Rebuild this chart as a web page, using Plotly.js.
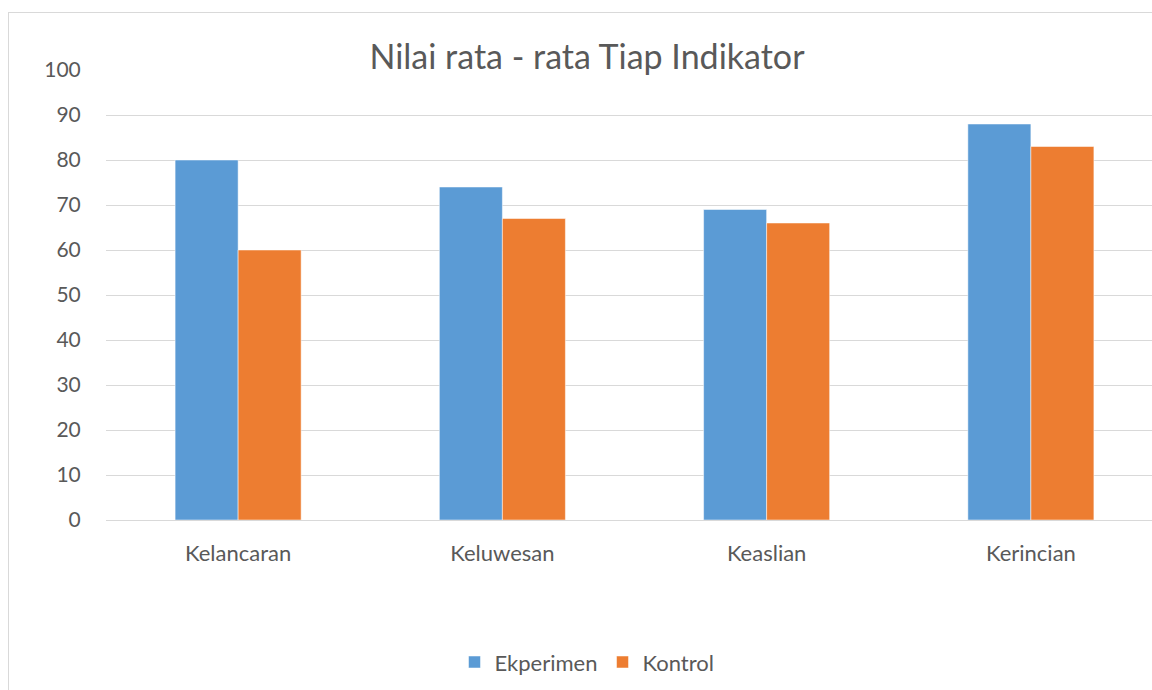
<!DOCTYPE html>
<html>
<head>
<meta charset="utf-8">
<script src="https://cdn.plot.ly/plotly-3.0.1.min.js"></script>
<style>
html,body{margin:0;padding:0;background:#fff;overflow:hidden;width:1152px;height:690px;}
#frame{position:absolute;left:8px;top:12px;border:1px solid #d9d9d9;background:#fff;}
</style>
</head>
<body>
<div id="frame"><div id="chart"></div></div>
<script>
const categories = ["Kelancaran", "Keluwesan", "Keaslian", "Kerincian"];
const seriesNames = ["Ekperimen", "Kontrol"];
const ekperimen = [80, 74, 69, 88];
const kontrol = [60, 67, 66, 83];
const yTicks = [0, 10, 20, 30, 40, 50, 60, 70, 80, 90, 100];

const fontFam = "Lato, 'Open Sans', sans-serif";
const data = [
  {type: "bar", name: seriesNames[0], x: categories, y: ekperimen,
   marker: {color: "#5b9bd5", line: {color: "#ffffff", width: 0.5}}},
  {type: "bar", name: seriesNames[1], x: categories, y: kontrol,
   marker: {color: "#ed7d31", line: {color: "#ffffff", width: 0.5}}}
];
const layout = {
  width: 1160, height: 700,
  margin: {l: 97, r: 6, t: 57, b: 193},
  paper_bgcolor: "#ffffff", plot_bgcolor: "#ffffff",
  font: {family: fontFam, color: "#595959", size: 21},
  title: {text: "Nilai rata - rata Tiap Indikator", font: {family: fontFam, size: 34, color: "#595959"},
          x: (587 - 9) / 1160, xanchor: "center", xref: "container", y: 1 - 44/700, yref: "container", yanchor: "middle"},
  barmode: "group", bargap: 0.523, bargroupgap: 0,
  xaxis: {type: "category", showgrid: false, showline: true, linecolor: "#d9d9d9", linewidth: 1,
          ticks: "outside", ticklen: 14, tickcolor: "rgba(0,0,0,0)", tickfont: {size: 22, color: "#595959"}},
  yaxis: {range: [0, 100], tickvals: yTicks, ticktext: yTicks.map(String), showgrid: true, gridcolor: "#d9d9d9", gridwidth: 1,
          zeroline: false, showline: false, ticks: "outside", ticklen: 20, tickcolor: "rgba(0,0,0,0)",
          tickfont: {size: 21, color: "#595959"}},
  showlegend: true,
  legend: {orientation: "h", x: (587 - 9 - 97) / 1057, xanchor: "center", xref: "paper", y: -0.316, yanchor: "middle",
           font: {size: 22, color: "#595959"}, itemwidth: 30, traceorder: "normal"}
};
Plotly.newPlot("chart", data, layout, {displayModeBar: false, staticPlot: true});
</script>
</body>
</html>
